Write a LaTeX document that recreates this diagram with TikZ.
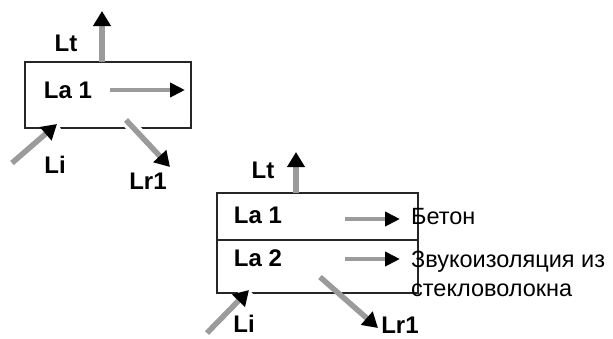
\documentclass[tikz,border=0pt]{standalone}
\usepackage{fontspec}
\setmainfont{Liberation Sans}
\usetikzlibrary{arrows.meta}
\definecolor{shaft}{RGB}{155,155,155}
\begin{document}
\begin{tikzpicture}[x=1pt,y=-1pt,
  lbl/.style={font=\fontsize{24}{28}\selectfont\bfseries, inner sep=0pt},
  txt/.style={font=\fontsize{23.5}{26}\selectfont, inner sep=0pt, anchor=west},
  box/.style={draw=black!85, line width=2pt},
  ray/.style={draw=shaft, line width=5.5pt, -{Triangle[length=15pt,width=17pt,color=black,fill=black]}},
  hray/.style={draw=shaft, line width=4.5pt, -{Triangle[length=15pt,width=14pt,color=black,fill=black]}},
  halo/.style={draw=white, line width=12pt}
]
\useasboundingbox (0,0) rectangle (613,338);
% ---------- first box ----------
\draw[box] (25,62) rectangle (191,128);
\node[lbl] (lt1) at (66,43) {Lt};
\node[lbl] (la1) at (68,90) {La 1};
\node[lbl] (li1) at (55,165) {Li};
\node[lbl] (lr1) at (148,181) {Lr1};
\coordinate (lt1s) at (102,62);
\coordinate (lt1e) at (102,11);
\coordinate (ha1s) at (110,90);
\coordinate (ha1e) at (185,90);
\coordinate (li1s) at (12,163);
\coordinate (li1e) at (57,124);
\coordinate (lr1s) at (126,120);
\coordinate (lr1e) at (170,167);
\draw[halo] (li1s) -- (li1e);
\draw[halo] (lr1s) -- (lr1e);
\draw[ray] (lt1s) -- (lt1e);
\draw[hray] (ha1s) -- (ha1e);
\draw[ray] (li1s) -- (li1e);
\draw[ray] (lr1s) -- (lr1e);
% ---------- second box ----------
\draw[box] (217,193) rectangle (418,293);
\draw[box] (217,240) -- (418,240);
\node[lbl] (lt2) at (263,170) {Lt};
\node[lbl] (la2a) at (258,215) {La 1};
\node[lbl] (la2b) at (258,258) {La 2};
\node[lbl] (li2) at (244,324) {Li};
\node[lbl] (lr2) at (400,325) {Lr1};
\node[txt] (t1) at (411,217) {Бетон};
\node[txt] (t2) at (411,262) {Звукоизоляция из};
\node[txt] (t3) at (411,290) {стекловолокна};
\coordinate (lt2s) at (296,193);
\coordinate (lt2e) at (296,152);
\coordinate (ha2s) at (345,219);
\coordinate (ha2e) at (400,219);
\coordinate (hb2s) at (345,259);
\coordinate (hb2e) at (400,259);
\coordinate (li2s) at (207,333);
\coordinate (li2e) at (249,290);
\coordinate (lr2s) at (320,277);
\coordinate (lr2e) at (378,328);
\draw[halo] (li2s) -- (li2e);
\draw[ray] (lt2s) -- (lt2e);
\draw[hray] (ha2s) -- (ha2e);
\draw[hray] (hb2s) -- (hb2e);
\draw[ray] (li2s) -- (li2e);
\draw[ray] (lr2s) -- (lr2e);
\end{tikzpicture}
\end{document}
